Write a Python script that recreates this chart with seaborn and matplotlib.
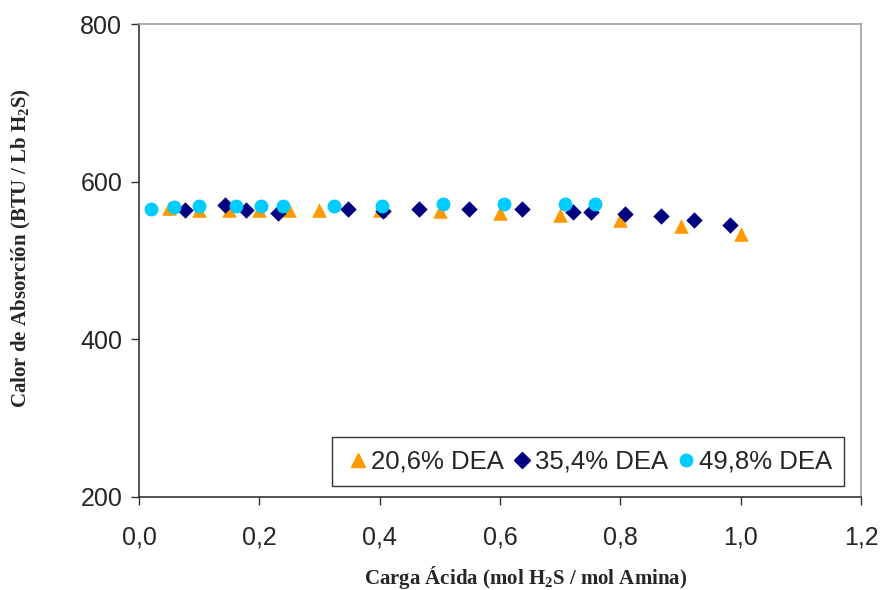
import matplotlib
matplotlib.use("Agg")
import matplotlib.pyplot as plt
from matplotlib.lines import Line2D
import seaborn as sns
import pandas as pd

# Data
x_206 = [0.05, 0.10, 0.15, 0.20, 0.25, 0.30, 0.40, 0.50, 0.60, 0.70, 0.80, 0.90, 1.00]
y_206 = [567, 564, 564, 564, 564, 564, 564, 563, 560, 558, 551, 544, 534]

x_354 = [0.076, 0.143, 0.178, 0.231, 0.347, 0.405, 0.465, 0.548, 0.637, 0.721, 0.751, 0.808, 0.867, 0.922, 0.982]
y_354 = [564, 570, 564, 560, 565, 563, 565, 565, 565, 562, 562, 559, 556, 551, 545]

x_498 = [0.02, 0.058, 0.10, 0.161, 0.203, 0.24, 0.324, 0.404, 0.506, 0.607, 0.708, 0.757]
y_498 = [566, 568, 569, 569, 569, 569, 569, 569, 572, 572, 572, 572]

labels = ["20,6% DEA", "35,4% DEA", "49,8% DEA"]
colors = ["#FF9900", "#000080", "#00CCFF"]
markers = ["^", "D", "o"]
xticks = [0.0, 0.2, 0.4, 0.6, 0.8, 1.0, 1.2]
xticklabels = ["0,0", "0,2", "0,4", "0,6", "0,8", "1,0", "1,2"]
yticks = [200, 400, 600, 800]

df = pd.concat([
    pd.DataFrame({"x": x_206, "y": y_206, "serie": labels[0]}),
    pd.DataFrame({"x": x_354, "y": y_354, "serie": labels[1]}),
    pd.DataFrame({"x": x_498, "y": y_498, "serie": labels[2]}),
], ignore_index=True)

sns.set_theme(style="white")
plt.rcParams["font.family"] = ["Liberation Sans", "DejaVu Sans"]
plt.rcParams["mathtext.fontset"] = "custom"
plt.rcParams["mathtext.rm"] = "Liberation Serif:bold"
plt.rcParams["mathtext.it"] = "Liberation Serif:bold"
plt.rcParams["mathtext.bf"] = "Liberation Serif:bold"

fig = plt.figure(figsize=(8.85, 5.9), dpi=100)
ax = fig.add_axes([0.157, 0.158, 0.816, 0.801])

sizes = {labels[0]: 110, labels[1]: 70, labels[2]: 100}
for lab, col, mk in zip(labels, colors, markers):
    sns.scatterplot(data=df[df["serie"] == lab], x="x", y="y", color=col, marker=mk,
                    s=sizes[lab], linewidth=0, ax=ax, legend=False)

ax.set_xlim(0, 1.2)
ax.set_ylim(200, 800)
ax.set_xticks(xticks)
ax.set_xticklabels(xticklabels)
ax.set_yticks(yticks)
ax.tick_params(axis="both", which="major", labelsize=18, direction="out", length=6,
               width=1, color="#333333", left=True, bottom=True)
ax.tick_params(axis="x", pad=15)
ax.tick_params(axis="y", pad=6)

for side in ["left", "bottom"]:
    ax.spines[side].set_color("#333333")
    ax.spines[side].set_linewidth(1.2)
for side in ["top", "right"]:
    ax.spines[side].set_color("#A0A0A0")
    ax.spines[side].set_linewidth(1.2)

ax.set_xlabel(r"Carga Ácida (mol H$_2$S / mol Amina)", fontsize=15,
              fontfamily="Liberation Serif", fontweight="bold")
ax.set_ylabel(r"Calor de Absorción (BTU / Lb H$_2$S)", fontsize=15,
              fontfamily="Liberation Serif", fontweight="bold")
ax.xaxis.set_label_coords(0.535, -0.143)
ax.yaxis.set_label_coords(-0.147, 0.526)

handles = [Line2D([], [], linestyle="none", marker=mk, color=col, markersize=ms, label=lab)
           for lab, col, mk, ms in zip(labels, colors, markers, [10, 8, 9])]
leg = ax.legend(handles=handles, ncol=3, loc="lower right", bbox_to_anchor=(0.977, 0.022),
                fontsize=18.5, frameon=True, fancybox=False, handletextpad=0.0,
                columnspacing=0.2, handlelength=1.0, borderpad=0.5, borderaxespad=0)
leg.get_frame().set_edgecolor("#000000")
leg.get_frame().set_linewidth(1.0)
for t in leg.get_texts():
    t.set_fontfamily(["Liberation Sans", "DejaVu Sans"])

fig.savefig("out.png", dpi=100)
